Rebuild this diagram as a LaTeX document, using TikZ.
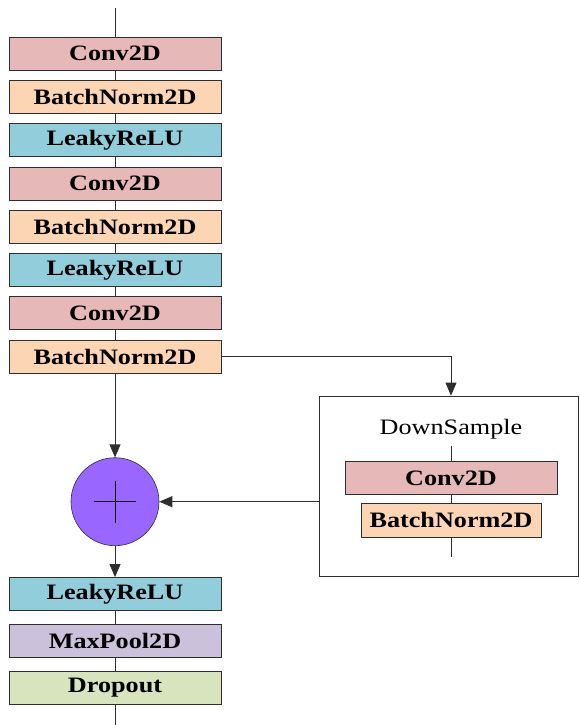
\documentclass[tikz,border=0pt]{standalone}
\usepackage{fontspec}
\setmainfont{Liberation Serif}[FakeStretch=1.19]
\usepackage{tikz}
\usetikzlibrary{shapes.geometric, arrows.meta, positioning}
\usepackage{xcolor}

\definecolor{rosaconv}{HTML}{E6B9B8}
\definecolor{durazno}{HTML}{FCD5B5}
\definecolor{celeste}{HTML}{92CDDC}
\definecolor{lila}{HTML}{CCC1DA}
\definecolor{verdeclaro}{HTML}{D7E4BD}
\definecolor{violeta}{HTML}{9966FF}
\definecolor{borde}{HTML}{2E2E2E}

\begin{document}
\begin{tikzpicture}[
        x=1pt, y=1pt,
        node distance=9.5pt,
        capa/.style={
            rectangle,
            draw=borde,
            line width=0.8pt,
            align=center,
            minimum width=212pt,
            minimum height=33pt,
            inner sep=0pt,
            font=\fontsize{22}{24}\selectfont\bfseries
        },
        conv/.style={capa, fill=rosaconv},
        bnorm/.style={capa, fill=durazno},
        lrelu/.style={capa, fill=celeste},
        mpool/.style={capa, fill=lila},
        drop/.style={capa, fill=verdeclaro},
        linea/.style={draw=borde, line width=0.8pt},
        flecha/.style={
            linea,
            -{Triangle[length=13pt,width=11pt]}
        }
    ]

    \useasboundingbox (0,0) rectangle (579,-725);

    \coordinate (entrada) at (115,-8);
    \coordinate (salida) at (115,-725);

    % bloque principal
    \node[conv] (conv1) at (115,-53.5) {Conv2D};
    \node[bnorm, below=of conv1] (bn1) {BatchNorm2D};
    \node[lrelu, below=of bn1] (relu1) {LeakyReLU};
    \node[conv, below=of relu1] (conv2) {Conv2D};
    \node[bnorm, below=of conv2] (bn2) {BatchNorm2D};
    \node[lrelu, below=of bn2] (relu2) {LeakyReLU};
    \node[conv, below=of relu2] (conv3) {Conv2D};
    \node[bnorm, below=of conv3] (bn3) {BatchNorm2D};

    % suma residual
    \node[circle, draw=borde, line width=0.6pt, fill=violeta,
        minimum size=88pt, inner sep=0pt] (suma) at (115,-501.7) {};
    \draw[line width=1pt] ([xshift=-21pt]suma.center) -- ([xshift=21pt]suma.center);
    \draw[line width=1pt] ([yshift=-21pt]suma.center) -- ([yshift=21pt]suma.center);

    \node[lrelu] (relu3) at (115,-594) {LeakyReLU};
    \node[mpool, below=13.2pt of relu3] (pool) {MaxPool2D};
    \node[drop, below=13.2pt of pool] (dropout) {Dropout};

    % rama DownSample
    \node[rectangle, draw=borde, line width=0.8pt,
        minimum width=259pt, minimum height=180pt] (down) at (448.5,-486) {};
    \node[font=\fontsize{22}{24}\selectfont] (titulo) at (451,-429) {DownSample};
    \coordinate (dsarriba) at (451,-446);
    \coordinate (dsabajo) at (451,-557);
    \node[conv] (dsconv) at (451,-478) {Conv2D};
    \node[bnorm, minimum width=180pt, minimum height=34pt] (dsbn) at (451,-520) {BatchNorm2D};

    % conexiones
    \draw[linea] (entrada) -- (conv1);
    \draw[linea] (conv1) -- (bn1);
    \draw[linea] (bn1) -- (relu1);
    \draw[linea] (relu1) -- (conv2);
    \draw[linea] (conv2) -- (bn2);
    \draw[linea] (bn2) -- (relu2);
    \draw[linea] (relu2) -- (conv3);
    \draw[linea] (conv3) -- (bn3);

    \draw[flecha] (bn3.south) -- (suma.north);
    \draw[flecha] (suma.south) -- (relu3.north);
    \draw[linea] (relu3) -- (pool);
    \draw[linea] (pool) -- (dropout);
    \draw[linea] (dropout) -- (salida);

    \draw[flecha] (bn3.east) -| (dsarriba |- down.north);
    \draw[flecha] (down.west |- suma.east) -- (suma.east);

    \draw[linea] (dsarriba) -- (dsconv);
    \draw[linea] (dsconv) -- (dsbn);
    \draw[linea] (dsbn) -- (dsabajo);

    \end{tikzpicture}
\end{document}
